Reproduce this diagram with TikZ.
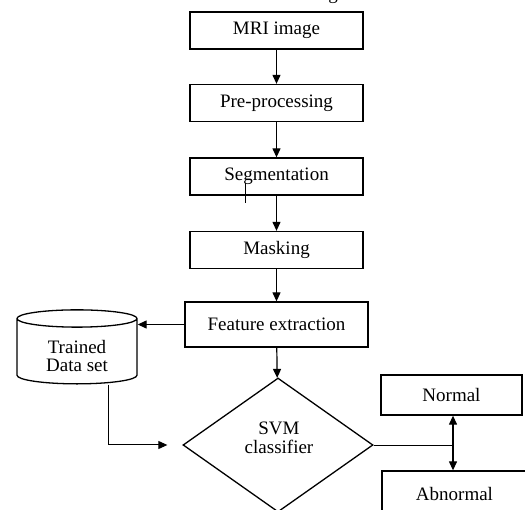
\documentclass[tikz,border=0pt]{standalone}
\usepackage{fontspec}
\setmainfont{Liberation Serif}
\usetikzlibrary{shapes.geometric,arrows.meta}
\tikzstyle{block}=[rectangle, draw, line width=1.3pt, minimum width=173pt, minimum height=37pt, inner sep=0pt, fill=white]
\tikzstyle{store}=[cylinder, shape border rotate=90, draw, line width=1.3pt, aspect=0.28, minimum width=120pt, minimum height=74pt, inner sep=0pt, align=center]
\tikzstyle{decide}=[diamond, draw, line width=1.3pt, minimum width=190pt, minimum height=134pt, aspect=1.42, inner sep=0pt]
\tikzstyle{arr}=[-{Triangle[width=8pt,length=9pt]}, line width=1.2pt]
\newcommand{\block}{\node[block]}

\begin{document}
\begin{tikzpicture}[x=1pt,y=-1pt,font=\fontsize{19}{18}\selectfont]
\useasboundingbox (0,0) rectangle (525,510);
\node[anchor=base] (cap) at (333,0) {g};
\foreach \n/\t/\y in {mri/MRI image/30.5, pre/Pre-processing/103, seg/Segmentation/176.5, mask/Masking/250}{
	\block (\n) at (276.5,\y) {\t};
	}
\block (feat) at (276.5,324.5)[minimum width=183pt, minimum height=45pt] {Feature extraction};
\node[store] (data) at (77,351.5) {\phantom{Trained}\\\phantom{Data set}};
\node[align=center] (datatext) at (77,356) {Trained\\Data set};
\node[decide] (svm) at (278,445) {};
\node[align=center, font=\fontsize{19}{19}\selectfont] (svmtext) at (279,438) {SVM\\classifier};
\block (normal) at (451.5,395)[minimum width=141pt, minimum height=40pt] {Normal};
\block (abnormal) at (454.5,494)[minimum width=145pt, minimum height=46pt] {Abnormal};
\coordinate (split) at (453,445);
\draw[arr] (mri) -- (pre);
\draw[arr] (pre) -- (seg);
\draw[arr] (seg) -- (mask);
\draw[arr] (mask) -- (feat);
\draw[arr] (feat) -- (svm);
\draw[arr] (feat.west) -- (feat.west -| data.east);
\draw[arr, line width=1pt, shorten >=15pt] ([xshift=31pt]data.south) |- (svm.west);
\draw[line width=0.8pt] (svm.east) -- (split);
\draw[arr] (split) -- (split |- normal.south);
\draw[arr] (split) -- (split |- abnormal.north);
% stray mark under Segmentation
\draw[line width=0.6pt] (245,183) -- (245,203);
\end{tikzpicture}
\end{document}
